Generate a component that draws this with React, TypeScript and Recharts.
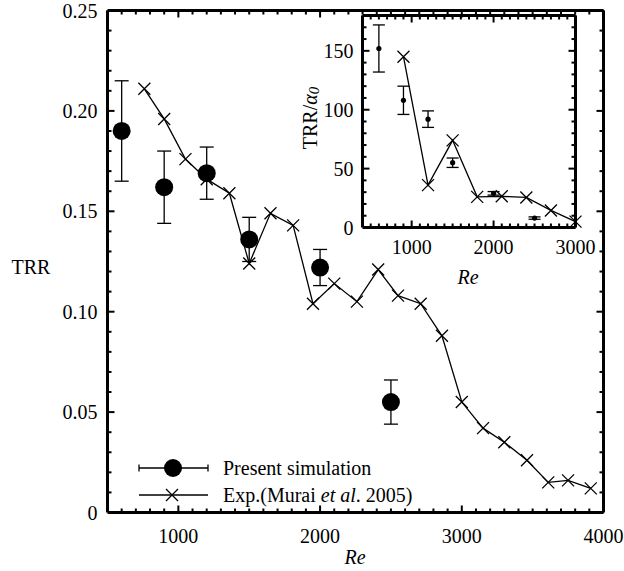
import { ErrorBar, ReferenceLine, Scatter, ScatterChart, XAxis, YAxis } from "recharts";

// main panel: TRR vs Re
const simRe = [600, 900, 1200, 1500, 2000, 2500];
const simTrr = [0.19, 0.162, 0.169, 0.136, 0.122, 0.055];
const simErr = [0.025, 0.018, 0.013, 0.011, 0.009, 0.011];

const muraiRe = [760, 900, 1050, 1200, 1360, 1500, 1650, 1810, 1950, 2100, 2260, 2410, 2550, 2710, 2860, 3000, 3150, 3300, 3460, 3610, 3750, 3910];
const muraiTrr = [0.211, 0.196, 0.176, 0.166, 0.159, 0.124, 0.149, 0.143, 0.104, 0.114, 0.105, 0.121, 0.108, 0.104, 0.088, 0.055, 0.042, 0.035, 0.026, 0.015, 0.016, 0.012];

const mainXMajor = [1000, 2000, 3000, 4000];
const mainYMajor = [0, 0.05, 0.1, 0.15, 0.2, 0.25];

// inset: TRR / alpha0
const insetSimRe = [600, 900, 1200, 1500, 2000, 2500];
const insetSimVal = [152, 108, 92, 55, 29, 8];
const insetSimErr = [20, 12, 7, 4, 1.5, 1];

const insetMuraiRe = [900, 1200, 1500, 1800, 2100, 2400, 2700, 3000];
const insetMuraiVal = [145, 36, 74, 26, 26.5, 25.5, 14.5, 5];

const insetXMajor = [1000, 2000, 3000];
const insetYMajor = [0, 50, 100, 150];

const txt = { fontFamily: "Liberation Serif", fontSize: 20 };

const range = (a: number, b: number, s: number) => {
  const out: number[] = [];
  for (let v = a; v <= b + 1e-9; v += s) out.push(Math.round(v * 1e6) / 1e6);
  return out;
};

const simData = simRe.map((re, i) => ({ re, v: simTrr[i], err: simErr[i] }));
const muraiData = muraiRe.map((re, i) => ({ re, v: muraiTrr[i] }));
const insetSimData = insetSimRe.map((re, i) => ({ re, v: insetSimVal[i], err: insetSimErr[i] }));
const insetMuraiData = insetMuraiRe.map((re, i) => ({ re, v: insetMuraiVal[i] }));

type Frame = { left: number; right: number; top: number; bottom: number };

const isMajor = (majors: number[], v: number) => majors.some((m) => Math.abs(m - v) < 1e-9);

// top/right mirrored axes: inward tick marks only
function topMarks(f: Frame, majors: number[]) {
  return (props: any) => {
    const { x, payload } = props;
    const len = isMajor(majors, payload.value) ? 7 : 4;
    return <line x1={x} y1={f.top} x2={x} y2={f.top + len} stroke="#000" strokeWidth={2} />;
  };
}

function rightMarks(f: Frame, majors: number[]) {
  return (props: any) => {
    const { y, payload } = props;
    const len = isMajor(majors, payload.value) ? 7 : 4;
    return <line x1={f.right} y1={y} x2={f.right - len} y2={y} stroke="#000" strokeWidth={2} />;
  };
}

// bottom/left axes: labels only
function xLabels(f: Frame, fmt: (v: number) => string, gap: number) {
  return (props: any) => (
    <text x={props.x} y={f.bottom + gap} textAnchor="middle" dominantBaseline="central" style={txt} fill="#000">
      {fmt(props.payload.value)}
    </text>
  );
}

function yLabels(f: Frame, fmt: (v: number) => string, gap: number) {
  return (props: any) => (
    <text x={f.left - gap} y={props.y} textAnchor="end" dominantBaseline="central" style={txt} fill="#000">
      {fmt(props.payload.value)}
    </text>
  );
}

// bottom/left inward tick marks as short reference segments (lengths in data units of one pixel)
function bottomTicks(ticks: number[], majors: number[], y0: number, yPerPx: number) {
  return ticks.map((v) => (
    <ReferenceLine
      key={`bx${v}`}
      segment={[
        { x: v, y: y0 },
        { x: v, y: y0 + (isMajor(majors, v) ? 7 : 4) * yPerPx },
      ]}
      stroke="#000"
      strokeWidth={2}
      ifOverflow="visible"
    />
  ));
}

function leftTicks(ticks: number[], majors: number[], x0: number, xPerPx: number) {
  return ticks.map((v) => (
    <ReferenceLine
      key={`ly${v}`}
      segment={[
        { x: x0, y: v },
        { x: x0 + (isMajor(majors, v) ? 7 : 4) * xPerPx, y: v },
      ]}
      stroke="#000"
      strokeWidth={2}
      ifOverflow="visible"
    />
  ));
}

const frameLine = { stroke: "#000", strokeWidth: 3 };

const Cross = (props: any) => {
  const { cx, cy } = props;
  const h = 6;
  return <path d={`M${cx - h},${cy - h}L${cx + h},${cy + h}M${cx - h},${cy + h}L${cx + h},${cy - h}`} stroke="#000" strokeWidth={1.3} fill="none" />;
};

const BigDot = (props: any) => <circle cx={props.cx} cy={props.cy} r={9} fill="#000" />;
const SmallDot = (props: any) => <circle cx={props.cx} cy={props.cy} r={2.6} fill="#000" />;

// main plot frame, in page pixels
const M: Frame = { left: 107.5, right: 603.5, top: 10.5, bottom: 512.5 };
// inset frame, relative to the inset's own box
const INSET_LEFT = 290;
const INSET_W = 325;
const I: Frame = { left: 72.5, right: 285.5, top: 15.5, bottom: 227.5 };

const mainXPerPx = 3500 / (M.right - M.left);
const mainYPerPx = 0.25 / (M.bottom - M.top);
const insetXPerPx = 2600 / (I.right - I.left);
const insetYPerPx = 180 / (I.bottom - I.top);

function MainLegend() {
  return (
    <g fill="#000">
      <line x1={139} y1={468} x2={208} y2={468} stroke="#000" strokeWidth={1.3} />
      <line x1={139} y1={464.5} x2={139} y2={471.5} stroke="#000" strokeWidth={1.3} />
      <line x1={208} y1={464.5} x2={208} y2={471.5} stroke="#000" strokeWidth={1.3} />
      <circle cx={173} cy={468} r={9} fill="#000" />
      <text x={223} y={468} dominantBaseline="central" style={txt}>Present simulation</text>
      <line x1={139} y1={495} x2={208} y2={495} stroke="#000" strokeWidth={1.3} />
      <Cross cx={172} cy={495} />
      <text x={223} y={495} dominantBaseline="central" style={txt}>
        Exp.(Murai <tspan fontStyle="italic">et al</tspan>. 2005)
      </text>
    </g>
  );
}

export default function App() {
  const yFmt = (v: number) => (v === 0 ? "0" : v.toFixed(2));
  const intFmt = (v: number) => String(v);
  return (
    <div style={{ position: "absolute", left: 0, top: 0, width: 624, height: 571, background: "#fff" }}>
      <ScatterChart width={624} height={571} margin={{ top: M.top - 1, right: 624 - M.right - 1, bottom: 0.5, left: 0.5 }}>
        <XAxis
          type="number"
          dataKey="re"
          domain={[500, 4000]}
          ticks={mainXMajor}
          interval={0}
          height={58}
          axisLine={frameLine}
          tickLine={false}
          tick={xLabels(M, intFmt, 23)}
          label={{
            content: () => (
              <text x={355} y={557} textAnchor="middle" dominantBaseline="central" style={txt} fontStyle="italic" fill="#000">
                Re
              </text>
            ),
          }}
        />
        <YAxis
          type="number"
          dataKey="v"
          domain={[0, 0.25]}
          ticks={mainYMajor}
          interval={0}
          width={107}
          axisLine={frameLine}
          tickLine={false}
          tick={yLabels(M, yFmt, 10)}
          label={{
            content: () => (
              <text x={31} y={267} textAnchor="middle" dominantBaseline="central" style={txt} fill="#000">
                TRR
              </text>
            ),
          }}
        />
        <XAxis
          xAxisId="top"
          orientation="top"
          type="number"
          dataKey="re"
          domain={[500, 4000]}
          ticks={range(500, 4000, 100)}
          interval={0}
          height={1}
          axisLine={frameLine}
          tickLine={false}
          tick={topMarks(M, mainXMajor)}
        />
        <YAxis
          yAxisId="right"
          orientation="right"
          type="number"
          dataKey="v"
          domain={[0, 0.25]}
          ticks={range(0, 0.25, 0.01)}
          interval={0}
          width={1}
          axisLine={frameLine}
          tickLine={false}
          tick={rightMarks(M, mainYMajor)}
        />
        {bottomTicks(range(600, 3900, 100), mainXMajor, 0, mainYPerPx)}
        {leftTicks(range(0.01, 0.24, 0.01), mainYMajor, 500, mainXPerPx)}
        <Scatter
          data={muraiData}
          xAxisId="top"
          yAxisId="right"
          line={{ stroke: "#000", strokeWidth: 1.3 }}
          lineType="joint"
          shape={Cross}
          isAnimationActive={false}
        />
        <Scatter data={simData} shape={BigDot} isAnimationActive={false}>
          <ErrorBar dataKey="err" direction="y" width={7} stroke="#000" strokeWidth={1.3} isAnimationActive={false} />
        </Scatter>
        <MainLegend />
      </ScatterChart>

      <div style={{ position: "absolute", left: INSET_LEFT, top: 0 }}>
        <ScatterChart width={INSET_W} height={290} margin={{ top: I.top - 1, right: INSET_W - I.right - 1, bottom: 0.5, left: 0.5 }}>
          <XAxis
            type="number"
            dataKey="re"
            domain={[400, 3000]}
            ticks={insetXMajor}
            interval={0}
            height={62}
            axisLine={frameLine}
            tickLine={false}
            tick={xLabels(I, intFmt, 19)}
            label={{
              content: () => (
                <text x={178} y={277} textAnchor="middle" dominantBaseline="central" style={txt} fontStyle="italic" fill="#000">
                  Re
                </text>
              ),
            }}
          />
          <YAxis
            type="number"
            dataKey="v"
            domain={[0, 180]}
            ticks={insetYMajor}
            interval={0}
            width={72}
            axisLine={frameLine}
            tickLine={false}
            tick={yLabels(I, intFmt, 9)}
            label={{
              content: () => (
                <text x={20} y={118} transform="rotate(-90, 20, 118)" textAnchor="middle" dominantBaseline="central" style={txt} fill="#000">
                  TRR/<tspan fontStyle="italic">α</tspan>
                  <tspan fontStyle="italic" fontSize={15} dy={4}>0</tspan>
                </text>
              ),
            }}
          />
          <XAxis
            xAxisId="top"
            orientation="top"
            type="number"
            dataKey="re"
            domain={[400, 3000]}
            ticks={range(400, 3000, 100)}
            interval={0}
            height={1}
            axisLine={frameLine}
            tickLine={false}
            tick={topMarks(I, insetXMajor)}
          />
          <YAxis
            yAxisId="right"
            orientation="right"
            type="number"
            dataKey="v"
            domain={[0, 180]}
            ticks={range(0, 180, 10)}
            interval={0}
            width={1}
            axisLine={frameLine}
            tickLine={false}
            tick={rightMarks(I, insetYMajor)}
          />
          {bottomTicks(range(500, 2900, 100), insetXMajor, 0, insetYPerPx)}
          {leftTicks(range(10, 170, 10), insetYMajor, 400, insetXPerPx)}
          <Scatter
            data={insetMuraiData}
            xAxisId="top"
            yAxisId="right"
            line={{ stroke: "#000", strokeWidth: 1.3 }}
            lineType="joint"
            shape={Cross}
            isAnimationActive={false}
          />
          <Scatter data={insetSimData} shape={SmallDot} isAnimationActive={false}>
            <ErrorBar dataKey="err" direction="y" width={6} stroke="#000" strokeWidth={1.3} isAnimationActive={false} />
          </Scatter>
        </ScatterChart>
      </div>
    </div>
  );
}
